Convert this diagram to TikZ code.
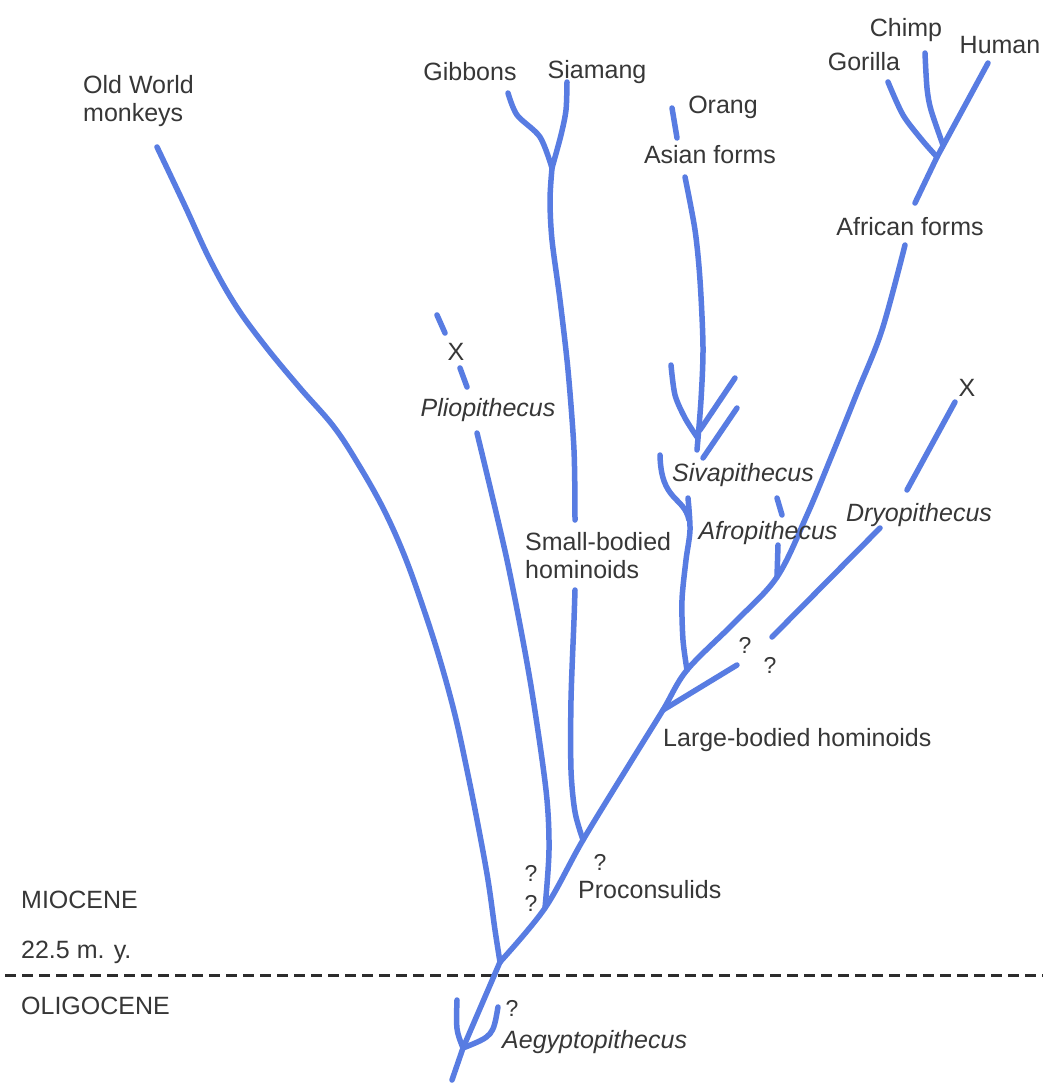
\documentclass[tikz,border=0pt]{standalone}
\usepackage{fontspec}
\setmainfont{Liberation Sans}
\definecolor{br}{RGB}{88,124,226}
\definecolor{tx}{RGB}{55,55,55}
\tikzset{
  branch/.style={draw=br, line width=5.5pt, line cap=round, line join=round},
  dashline/.style={draw=tx!80!black, line width=3pt, dash pattern=on 11pt off 6pt},
  lbl/.style={text=tx, font=\fontsize{25}{28}\selectfont, inner sep=0pt},
  ilbl/.style={lbl, font=\fontsize{25}{28}\selectfont\itshape},
  qm/.style={lbl, font=\fontsize{23}{26}\selectfont},
}
\begin{document}
\begin{tikzpicture}[x=1pt,y=-1pt]
\useasboundingbox[fill=white] (0,0) rectangle (1043,1088);

% key coordinates
\coordinate (root) at (452,1080);
\coordinate (aeg) at (463,1048);
\coordinate (aegLt) at (457,1000);
\coordinate (aegRt) at (498,1007);
\coordinate (j1) at (500,962);
\coordinate (owm) at (157,147);
\coordinate (j2) at (545,908);
\coordinate (plioTop) at (477,433);
\coordinate (pd1a) at (437,315); \coordinate (pd1b) at (445,333);
\coordinate (pd2a) at (460,368); \coordinate (pd2b) at (467,387);
\coordinate (j3) at (583,840);
\coordinate (sbLowTop) at (575,590);
\coordinate (sbUpBot) at (575,520);
\coordinate (gib) at (552,168);
\coordinate (gibTop) at (508,93);
\coordinate (siaTop) at (567,82);
\coordinate (j4) at (663,710);
\coordinate (qend) at (737,665);
\coordinate (j5) at (687,670);
\coordinate (sivTop) at (688,498);
\coordinate (hookTop) at (660,455);
\coordinate (hookEnd) at (689,520);
\coordinate (j6) at (777,577);
\coordinate (afpLowTop) at (778,545);
\coordinate (afpUa) at (777,498); \coordinate (afpUb) at (782,515);
\coordinate (afrTop) at (905,245);
\coordinate (afrUpBot) at (915,203);
\coordinate (F) at (937,157);
\coordinate (gorTop) at (888,82);
\coordinate (chiBase) at (943,145);
\coordinate (chiTop) at (925,53);
\coordinate (humTop) at (988,63);
\coordinate (asTop) at (685,177);
\coordinate (asBot) at (697,450);
\coordinate (asLTop) at (671,365);
\coordinate (asRa) at (735,378); \coordinate (asRb) at (700,430);
\coordinate (asPa) at (737,408); \coordinate (asPb) at (703,458);
\coordinate (orA) at (672,108); \coordinate (orB) at (677,138);
\coordinate (dlA) at (772,637); \coordinate (dlB) at (880,528);
\coordinate (duA) at (907,490); \coordinate (duB) at (955,402);
\coordinate (dashL) at (5,975); \coordinate (dashR) at (1043,975);

% time line
\draw[dashline] (dashL) -- (dashR);

% root and Aegyptopithecus
\draw[branch] (root) -- (aeg) -- (j1);
\draw[branch] (aeg) .. controls (456,1030) .. (aegLt);
\draw[branch] (aeg) .. controls (493,1036) .. (aegRt);

% Old World monkeys
\draw[branch] plot[smooth, tension=0.6] coordinates {(j1) (495,930) (488,880) (478,825) (467,770) (455,715) (440,660) (424,610) (405,557) (384,510) (360,467) (334,427) (300,388) (266,347) (236,306) (210,260) (185,206) (owm)};

% hominoid trunk and African line
\draw[branch] plot[smooth, tension=0.55] coordinates {(j1) (j2) (j3) (632,760) (j4) (j5) (735,622) (j6) (807,515) (832,455) (857,393) (882,330) (afrTop)};

% Pliopithecus
\draw[branch] plot[smooth] coordinates {(j2) (549,850) (546,790) (530,680) (507,560) (plioTop)};
\draw[branch] (pd1a) -- (pd1b);
\draw[branch] (pd2a) -- (pd2b);

% small-bodied hominoids
\draw[branch] plot[smooth] coordinates {(j3) (575,812) (571,770) (571,700) (574,620) (sbLowTop)};
\draw[branch] plot[smooth] coordinates {(sbUpBot) (574,450) (568,370) (560,300) (552,240) (550,200) (gib)};
\draw[branch] plot[smooth] coordinates {(gib) (540,137) (517,115) (gibTop)};
\draw[branch] plot[smooth] coordinates {(gib) (561,135) (566,110) (siaTop)};

% large-bodied branch with ?
\draw[branch] (j4) -- (qend);

% Sivapithecus
\draw[branch] plot[smooth] coordinates {(j5) (683,640) (682,600) (686,560) (690,530) (sivTop)};
\draw[branch] (hookTop) .. controls (661,502) and (684,496) .. (hookEnd);

% Asian forms
\draw[branch] plot[smooth] coordinates {(asTop) (695,230) (700,280) (703,347) (701,400) (asBot)};
\draw[branch] plot[smooth] coordinates {(asLTop) (675,395) (685,418) (697,437)};
\draw[branch] (asRa) -- (asRb);
\draw[branch] (asPa) -- (asPb);
\draw[branch] (orA) -- (orB);

% Afropithecus
\draw[branch] (afpUa) -- (afpUb);
\draw[branch] (afpLowTop) -- (j6);

% African forms top
\draw[branch] (afrUpBot) -- (F);
\draw[branch] plot[smooth] coordinates {(F) (922,140) (903,115) (gorTop)};
\draw[branch] (F) -- (humTop);
\draw[branch] plot[smooth] coordinates {(chiBase) (931,110) (927,88) (chiTop)};

% Dryopithecus
\draw[branch] (dlA) -- (dlB);
\draw[branch] (duA) -- (duB);

% labels
\node[lbl, anchor=west, align=left] (owmL) at (83,101) {Old World\\monkeys};
\node[lbl] (gibL) at (470,72) {Gibbons};
\node[lbl] (siaL) at (597,72) {Siamang};
\node[lbl] (oraL) at (723,107) {Orang};
\node[lbl] (asiL) at (710,155) {Asian forms};
\node[lbl] (chiL) at (906,30) {Chimp};
\node[lbl] (gorL) at (864,62) {Gorilla};
\node[lbl] (humL) at (1000,45) {Human};
\node[lbl] (afrL) at (910,227) {African forms};
\node[lbl] (x1) at (456,352) {X};
\node[ilbl] (pliL) at (488,410) {Pliopithecus};
\node[lbl, anchor=west, align=left] (sbL) at (525,556) {Small-bodied\\hominoids};
\node[ilbl] (sivL) at (743,475) {Sivapithecus};
\node[ilbl] (afpL) at (768,533) {Afropithecus};
\node[ilbl] (dryL) at (919,515) {Dryopithecus};
\node[lbl] (x2) at (967,388) {X};
\node[qm] (q1) at (745,645) {?};
\node[qm] (q2) at (770,665) {?};
\node[lbl, anchor=west] (lbh) at (663,740) {Large-bodied hominoids};
\node[qm] (q3) at (600,862) {?};
\node[lbl, anchor=west] (pro) at (578,890) {Proconsulids};
\node[qm] (q4) at (531,873) {?};
\node[qm] (q5) at (531,903) {?};
\node[lbl, anchor=west] (mio) at (21,900) {MIOCENE};
\node[lbl, anchor=west] (myr) at (21,952) {22.5 m. y.};
\node[lbl, anchor=west] (oli) at (21,1006) {OLIGOCENE};
\node[qm] (q6) at (512,1008) {?};
\node[ilbl, anchor=west] (aegN) at (502,1042) {Aegyptopithecus};
\end{tikzpicture}
\end{document}
